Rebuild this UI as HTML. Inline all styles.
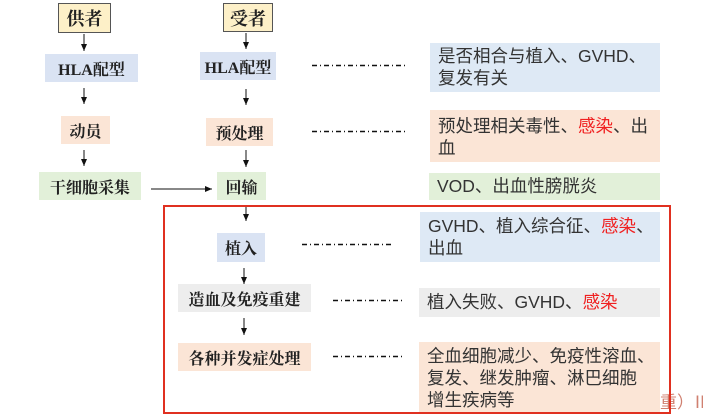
<!DOCTYPE html>
<html><head><meta charset="utf-8"><style>
body{margin:0;width:703px;height:419px;background:#fff;position:relative;overflow:hidden;font-family:"Liberation Serif","Noto Serif CJK SC",serif;}
.n{position:absolute;display:flex;align-items:center;justify-content:center;font-weight:bold;font-size:16px;color:#222;box-sizing:border-box;white-space:nowrap}
.t{position:absolute;box-sizing:border-box;font-family:"Liberation Sans","Noto Sans CJK SC",sans-serif;font-size:17.5px;line-height:22px;color:#333;padding:2px 8px;white-space:nowrap}
.r{color:#f02020}
svg{position:absolute;left:0;top:0}
</style></head><body>
<div class="n" style="left:58px;top:3px;width:53px;height:30px;background:#fdf0c8;border:1px solid #555;font-size:18px">供者</div>
<div class="n" style="left:223px;top:3px;width:50px;height:29px;background:#fdf0c8;border:1px solid #555;font-size:18px">受者</div>
<div class="n" style="left:45px;top:54px;width:93px;height:28px;background:#dae3f3">HLA配型</div>
<div class="n" style="left:200px;top:52px;width:76px;height:28px;background:#dae3f3">HLA配型</div>
<div class="n" style="left:61px;top:116px;width:49px;height:28px;background:#fbe5d6">动员</div>
<div class="n" style="left:206px;top:118px;width:67px;height:28px;background:#fbe5d6">预处理</div>
<div class="n" style="left:39px;top:172px;width:102px;height:28px;background:#e2f0d9">干细胞采集</div>
<div class="n" style="left:217px;top:172px;width:49px;height:28px;background:#e2f0d9">回输</div>
<div class="n" style="left:217px;top:233px;width:48px;height:29px;background:#dae3f3">植入</div>
<div class="n" style="left:178px;top:284px;width:133px;height:28px;background:#ededed">造血及免疫重建</div>
<div class="n" style="left:178px;top:343px;width:133px;height:28px;background:#fbe5d6">各种并发症处理</div>

<div class="t" style="left:430px;top:43px;width:230px;height:49px;background:#dee9f5">是否相合与植入、GVHD、<br>复发有关</div>
<div class="t" style="left:430px;top:110px;width:230px;height:52px;background:#fbe5d6;padding-top:5px">预处理相关毒性、<span class="r">感染</span>、出<br>血</div>
<div class="t" style="left:429px;top:173px;width:231px;height:27px;background:#e2f0d9">VOD、出血性膀胱炎</div>
<div class="t" style="left:420px;top:212px;width:240px;height:50px;background:#dee9f5;padding-top:3px">GVHD、植入综合征、<span class="r">感染</span>、<br>出血</div>
<div class="t" style="left:419px;top:288px;width:241px;height:29px;background:#ededed;padding-top:3px">植入失败、GVHD、<span class="r">感染</span></div>
<div class="t" style="left:419px;top:342px;width:241px;height:71px;background:#fbe5d6;padding-top:3px">全血细胞减少、免疫性溶血、<br>复发、继发肿瘤、淋巴细胞<br>增生疾病等</div>
<div style="position:absolute;left:660px;top:388px;font-family:'Liberation Sans','Noto Sans CJK SC',sans-serif;font-size:17px;color:#d08070;white-space:nowrap">重）Ⅲ</div>

<svg width="703" height="419">
<defs><marker id="a" markerWidth="8" markerHeight="8" refX="7" refY="4" orient="auto" markerUnits="userSpaceOnUse"><path d="M0,1 L7,4 L0,7z" fill="#111"/></marker></defs>
<g stroke="#111" stroke-width="1" fill="none" marker-end="url(#a)">
<line x1="84" y1="34" x2="84" y2="51"/>
<line x1="84" y1="88" x2="84" y2="104"/>
<line x1="84" y1="150" x2="84" y2="166"/>
<line x1="246" y1="33" x2="246" y2="49"/>
<line x1="246" y1="89" x2="246" y2="105"/>
<line x1="246" y1="150" x2="246" y2="167"/>
<line x1="151" y1="189" x2="212" y2="189"/>
<line x1="246" y1="206" x2="246" y2="221"/>
<line x1="244" y1="268" x2="244" y2="284"/>
<line x1="244" y1="318" x2="244" y2="335"/>
</g>
<g stroke="#111" stroke-width="1.5" stroke-dasharray="5,3,1,3" fill="none">
<line x1="312" y1="65.5" x2="406" y2="65.5"/>
<line x1="312" y1="131.5" x2="406" y2="131.5"/>
<line x1="302" y1="244.5" x2="392" y2="244.5"/>
<line x1="333" y1="300.5" x2="402" y2="300.5"/>
<line x1="333" y1="356.5" x2="402" y2="356.5"/>
</g>
<rect x="164" y="206" width="506" height="207" fill="none" stroke="#e03020" stroke-width="2"/>
</svg>
</body></html>
